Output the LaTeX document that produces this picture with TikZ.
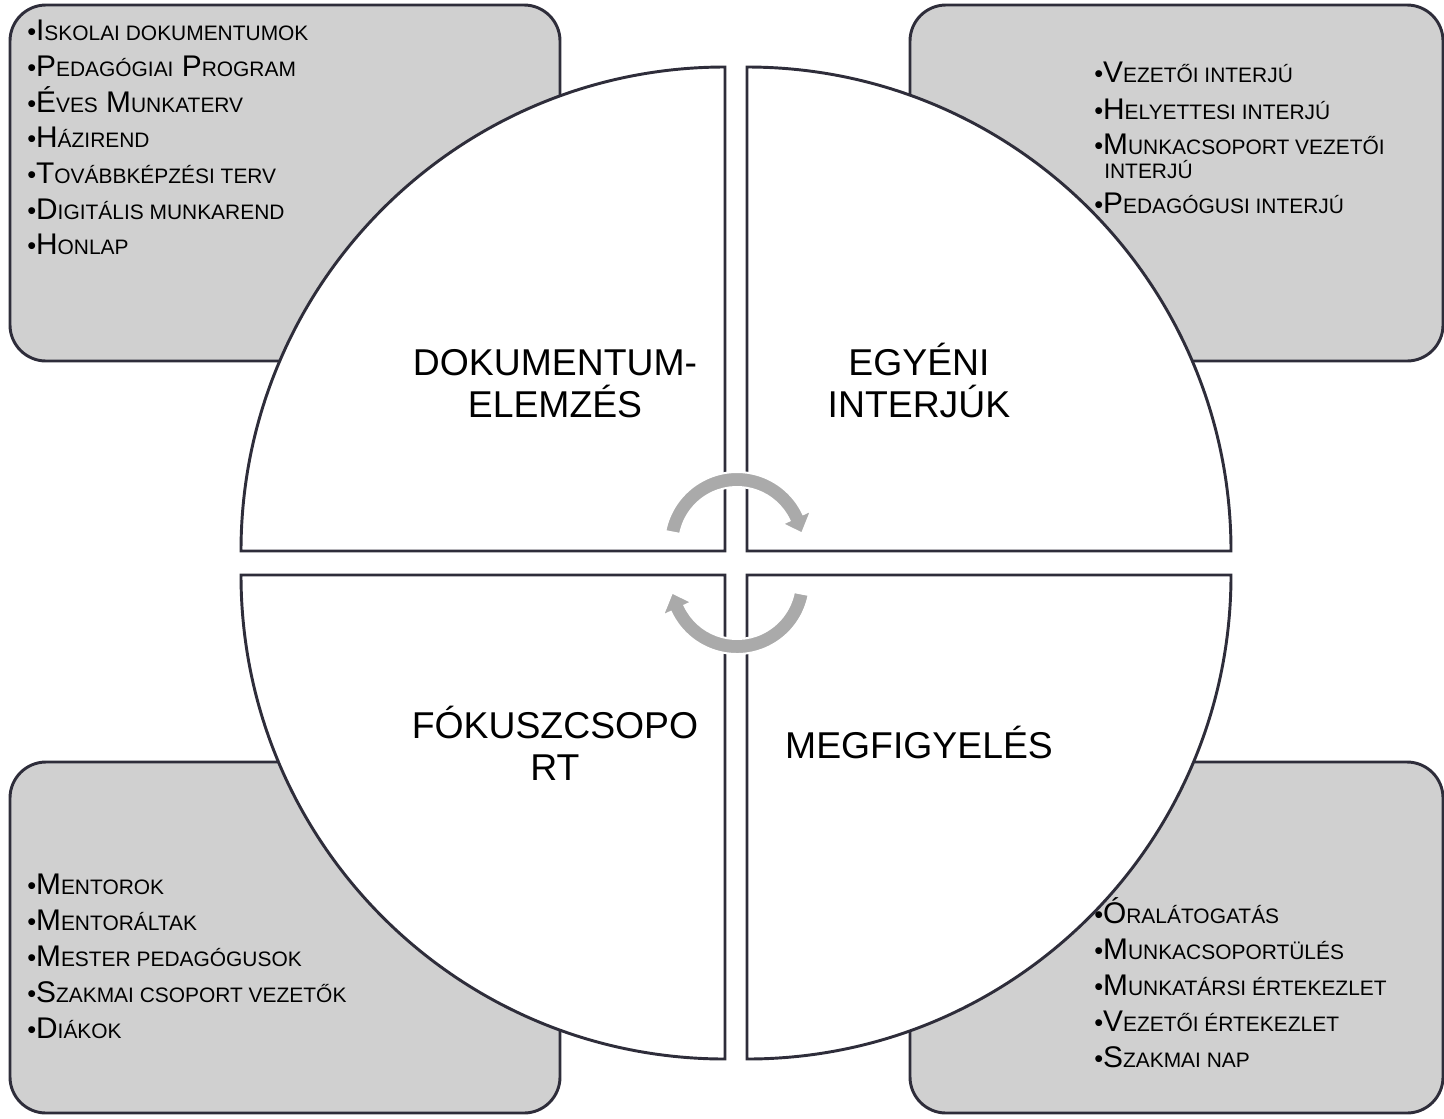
\documentclass[tikz,border=0pt]{standalone}
\usepackage{fontspec}
\setmainfont{Liberation Sans}
\definecolor{edge}{RGB}{46,45,58}
\definecolor{boxgray}{RGB}{208,208,208}
\definecolor{arrowgray}{RGB}{170,170,170}
% small caps made by hand (first letter full size, rest smaller capitals)
\newcommand\sk[1]{{\fontsize{15.7}{18}\selectfont\MakeUppercase{#1}}}
\newcommand\bul{{\fontsize{19}{19}\selectfont •}}

\begin{document}
\begin{tikzpicture}[x=0.75pt,y=-0.75pt,
    box/.style={draw=edge,fill=boxgray,line width=2.2pt,rounded corners=27pt},
    quad/.style={draw=edge,fill=white,line width=2.2pt},
    lbl/.style={font=\fontsize{28}{31}\selectfont,align=center,inner sep=0pt,anchor=base},
    itm/.style={font=\fontsize{22.4}{26}\selectfont,inner sep=0pt,anchor=base west},
    turn/.style={fill=arrowgray,draw=white,line width=1.5pt}]
    \useasboundingbox (0,0) rectangle (1444,1118);
    % grey boxes behind the circle
    \draw[box] (10,5) rectangle (560,361);
    \draw[box] (910,5) rectangle (1443,361);
    \draw[box] (10,762) rectangle (560,1113);
    \draw[box] (910,762) rectangle (1443,1113);
    % four quarter circles
    \draw[quad] (725,551) -- (241,551) arc[start angle=180,end angle=270,radius=484] -- cycle;
    \draw[quad] (747,551) -- (747,67) arc[start angle=270,end angle=360,radius=484] -- cycle;
    \draw[quad] (725,575) -- (241,575) arc[start angle=180,end angle=90,radius=484] -- cycle;
    \draw[quad] (747,575) -- (1231,575) arc[start angle=0,end angle=90,radius=484] -- cycle;
    % quadrant titles (base = last line)
    \node[lbl] (dok) at (555,417) {DOKUMENTUM-\\ELEMZÉS};
    \node[lbl] (egy) at (919,417) {EGYÉNI\\INTERJÚK};
    \node[lbl] (fok) at (555,780) {FÓKUSZCSOPO\\RT};
    \node[lbl] (meg) at (919,758) {MEGFIGYELÉS};
    % box lists
    \foreach \t [count=\i] in {I\sk{skolai dokumentumok}, P\sk{edagógiai} P\sk{rogram},
        É\sk{ves} M\sk{unkaterv}, H\sk{ázirend}, T\sk{ovábbképzési terv},
        D\sk{igitális munkarend}, H\sk{onlap}}
        \node[itm] (doc\i) at (27,{5+35.7*\i}) {\bul\t};
    \node[itm] (int1) at (1094,82.7) {\bul V\sk{ezetői interjú}};
    \node[itm] (int2) at (1094,119.3) {\bul H\sk{elyettesi interjú}};
    \node[itm] (int3) at (1094,154) {\bul M\sk{unkacsoport vezetői}};
    \node[itm] (int3b) at (1104,178.3) {\sk{interjú}};
    \node[itm] (int4) at (1094,213.3) {\bul P\sk{edagógusi interjú}};
    \foreach \t [count=\i] in {M\sk{entorok}, M\sk{entoráltak}, M\sk{ester pedagógusok},
        S\sk{zakmai csoport vezetők}, D\sk{iákok}}
        \node[itm] (fc\i) at (27,{858+36*\i}) {\bul\t};
    \foreach \t [count=\i] in {Ó\sk{ralátogatás}, M\sk{unkacsoportülés},
        M\sk{unkatársi értekezlet}, V\sk{ezetői értekezlet}, S\sk{zakmai nap}}
        \node[itm] (obs\i) at (1094,{887+36*\i}) {\bul\t};
    % cycle arrows in the middle
    \begin{scope}[shift={(737,545)},yscale=-1]
        \path[turn] (169:73) arc[start angle=169,end angle=25,radius=73] -- (25:82) -- (10:66)
            -- (25:50) -- (25:58) arc[start angle=25,end angle=169,radius=58] -- cycle;
    \end{scope}
    \begin{scope}[shift={(737,581)},yscale=-1,rotate=180]
        \path[turn] (169:73) arc[start angle=169,end angle=25,radius=73] -- (25:82) -- (10:66)
            -- (25:50) -- (25:58) arc[start angle=25,end angle=169,radius=58] -- cycle;
    \end{scope}
\end{tikzpicture}
\end{document}
